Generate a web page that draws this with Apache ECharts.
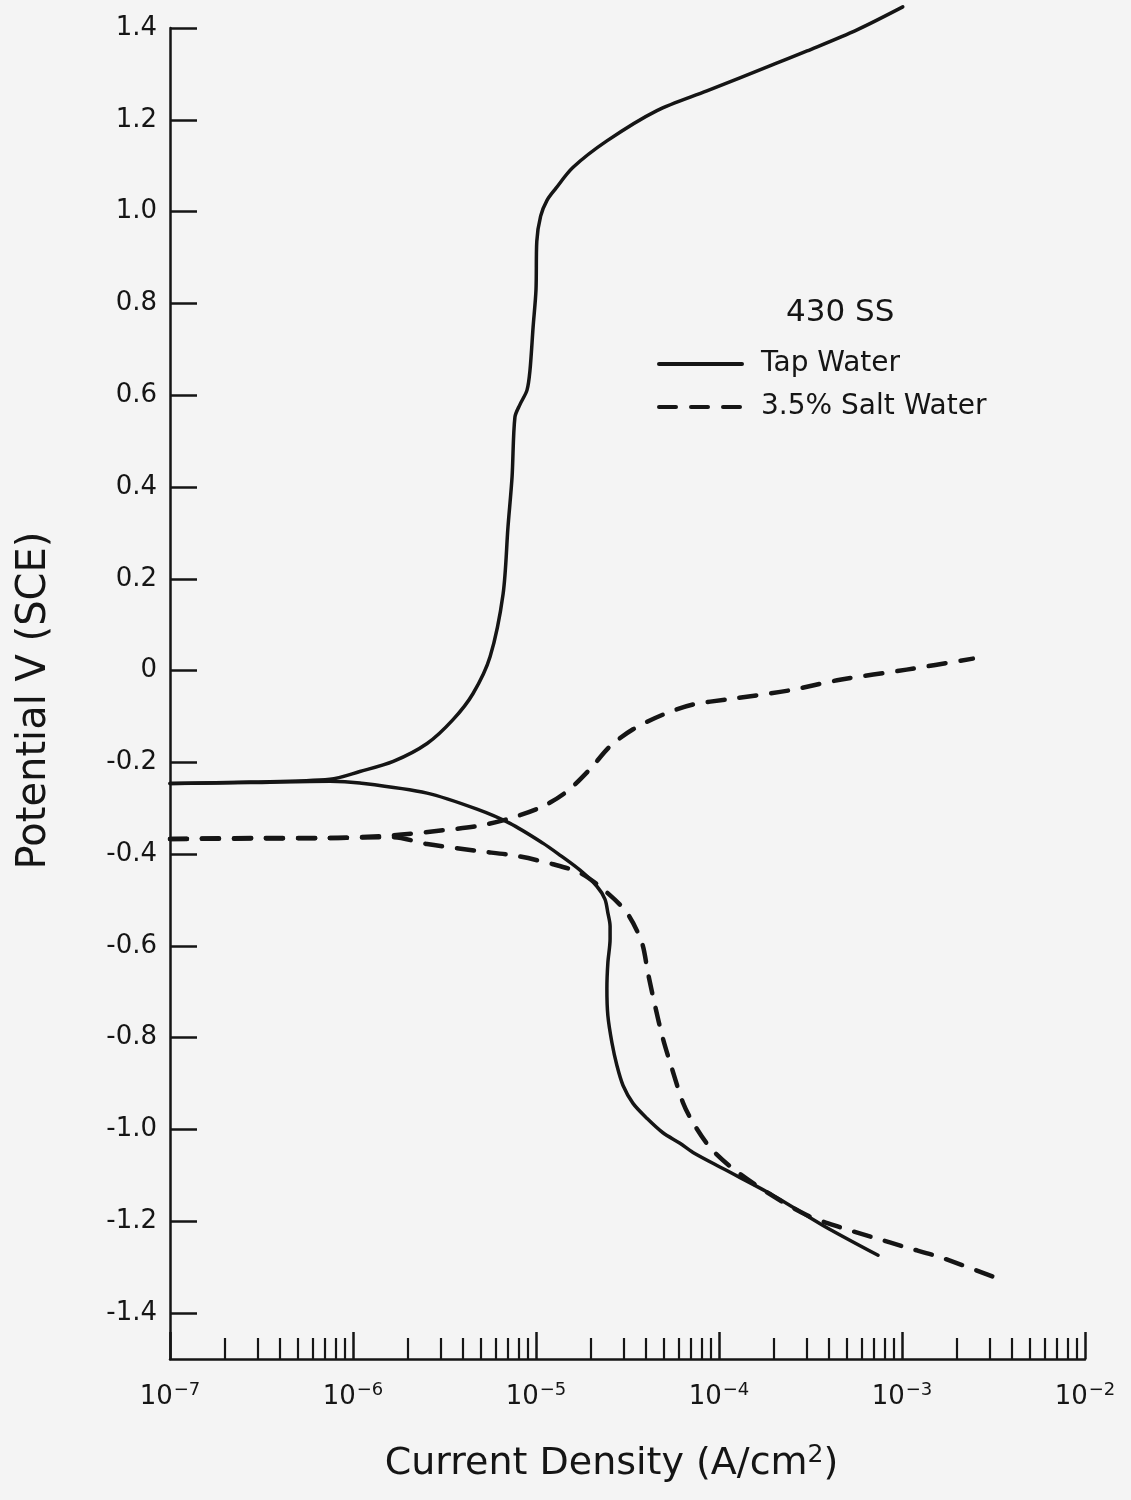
<!DOCTYPE html>
<html>
<head>
<meta charset="utf-8">
<script src="https://cdn.jsdelivr.net/npm/echarts@6/dist/echarts.min.js"></script>
<style>
  html, body { margin: 0; padding: 0; background: #f4f4f4; }
  #chart { width: 1131px; height: 1500px; }
</style>
</head>
<body>
<div id="chart"></div>
<script>
// ---- Data (current density A/cm^2, potential V vs SCE) ----
const tapAnodicI = [1.00e-7, 2.74e-7, 7.48e-7, 1.09e-6, 1.66e-6, 2.54e-6, 3.52e-6, 4.53e-6, 5.61e-6, 6.61e-6, 7.03e-6, 7.40e-6, 7.67e-6, 8.18e-6, 8.93e-6, 9.27e-6, 9.64e-6, 1.00e-5, 1.01e-5, 1.06e-5, 1.15e-5, 1.28e-5, 1.59e-5, 2.44e-5, 4.58e-5, 8.59e-5, 1.97e-4, 3.03e-4, 5.68e-4, 1.01e-3];
const tapAnodicV = [-0.246, -0.243, -0.237, -0.220, -0.198, -0.159, -0.107, -0.050, 0.030, 0.167, 0.313, 0.422, 0.552, 0.580, 0.611, 0.654, 0.748, 0.830, 0.935, 0.990, 1.025, 1.050, 1.096, 1.154, 1.220, 1.263, 1.320, 1.350, 1.396, 1.446];

const tapCathodicI = [1.00e-7, 2.74e-7, 7.48e-7, 1.09e-6, 2.54e-6, 4.76e-6, 7.21e-6, 1.09e-5, 1.35e-5, 1.74e-5, 2.15e-5, 2.38e-5, 2.47e-5, 2.54e-5, 2.54e-5, 2.47e-5, 2.44e-5, 2.47e-5, 2.60e-5, 2.77e-5, 2.99e-5, 3.39e-5, 4.05e-5, 4.94e-5, 6.12e-5, 7.21e-5, 1.05e-4, 1.97e-4, 3.70e-4, 7.40e-4];
const tapCathodicV = [-0.246, -0.244, -0.241, -0.245, -0.267, -0.302, -0.333, -0.376, -0.402, -0.435, -0.470, -0.498, -0.528, -0.557, -0.585, -0.637, -0.693, -0.752, -0.811, -0.861, -0.904, -0.943, -0.976, -1.007, -1.030, -1.050, -1.085, -1.143, -1.209, -1.274];

const saltAnodicI = [1.00e-7, 3.10e-7, 7.21e-7, 1.66e-6, 3.10e-6, 4.76e-6, 7.21e-6, 1.09e-5, 1.48e-5, 1.97e-5, 2.54e-5, 3.39e-5, 4.94e-5, 7.21e-5, 1.11e-4, 2.44e-4, 4.58e-4, 1.06e-3, 2.44e-3];
const saltAnodicV = [-0.367, -0.365, -0.365, -0.359, -0.348, -0.339, -0.322, -0.296, -0.263, -0.215, -0.165, -0.128, -0.096, -0.074, -0.063, -0.043, -0.020, 0.002, 0.026];

const saltCathodicI = [1.00e-7, 7.21e-7, 1.66e-6, 2.54e-6, 4.76e-6, 7.87e-6, 1.24e-5, 1.74e-5, 2.32e-5, 3.14e-5, 3.79e-5, 4.09e-5, 4.47e-5, 4.94e-5, 5.53e-5, 6.35e-5, 7.21e-5, 8.93e-5, 1.19e-4, 1.83e-4, 3.03e-4, 4.58e-4, 6.95e-4, 1.06e-3, 1.61e-3, 3.22e-3];
const saltCathodicV = [-0.367, -0.365, -0.363, -0.378, -0.393, -0.404, -0.422, -0.441, -0.476, -0.528, -0.593, -0.659, -0.730, -0.802, -0.867, -0.941, -0.985, -1.039, -1.085, -1.137, -1.187, -1.213, -1.235, -1.257, -1.278, -1.322];

// ---- Axis tick definitions ----
const xDecades = [1e-7, 1e-6, 1e-5, 1e-4, 1e-3, 1e-2];
const yTicks = [-1.4, -1.2, -1.0, -0.8, -0.6, -0.4, -0.2, 0, 0.2, 0.4, 0.6, 0.8, 1.0, 1.2, 1.4];
const seriesNames = ['Tap Water', '3.5% Salt Water'];
const legendTitle = '430 SS';

const xMinor = [];
for (let d = 0; d < xDecades.length - 1; d++) {
  for (let k = 2; k <= 9; k++) xMinor.push(+(k * xDecades[d]).toPrecision(3));
}

function pairs(xs, ys) { return xs.map((x, i) => [x, ys[i]]); }

const INK = '#151515';
const FONT = 'DejaVu Sans';

const solidStyle = { color: INK, width: 3.5, type: 'solid', cap: 'round', join: 'round' };
const dashStyle = { color: INK, width: 4.5, type: [17, 15], cap: 'round', join: 'round' };

const chart = echarts.init(document.getElementById('chart'), null, { renderer: 'canvas' });

const option = {
  backgroundColor: '#f4f4f4',
  animation: false,
  title: {
    text: legendTitle,
    left: 786, top: 297,
    padding: 0,
    textStyle: { fontFamily: FONT, fontSize: 31, fontWeight: 'normal', color: INK }
  },
  legend: {
    data: seriesNames,
    orient: 'vertical',
    left: 657, top: 350,
    padding: 0,
    itemWidth: 83, itemHeight: 24, itemGap: 15,
    itemStyle: { opacity: 0 },
    lineStyle: { width: 4 },
    formatter: n => '{t|' + n + '}',
    textStyle: {
      fontFamily: FONT, fontSize: 28, color: INK,
      rich: { t: { fontFamily: FONT, fontSize: 28, color: INK, padding: [0, 0, 0, 14] } }
    }
  },
  grid: { left: 170, right: 46, top: 28, bottom: 141, containLabel: false },
  xAxis: [
    {
      type: 'log', logBase: 10, min: 1e-7, max: 1e-2,
      name: 'Current Density (A/cm{sup|2})',
      nameLocation: 'middle', nameGap: 84,
      nameTextStyle: {
        fontFamily: FONT, fontSize: 38, color: INK,
        padding: [0, 32, 0, 0],
        rich: { sup: { fontFamily: FONT, fontSize: 25, color: INK, padding: [0, 0, 18, 0] } }
      },
      axisLine: { show: true, onZero: false, lineStyle: { color: INK, width: 2.5 } },
      axisTick: { show: true, inside: true, length: 27, customValues: xDecades, lineStyle: { color: INK, width: 2.5 } },
      axisLabel: {
        customValues: xDecades,
        margin: 22,
        formatter: v => '{b|10}{s|−' + Math.round(-Math.log10(v)) + '}',
        rich: {
          b: { fontFamily: FONT, fontSize: 26, color: INK },
          s: { fontFamily: FONT, fontSize: 18, color: INK, padding: [0, 0, 15, 1] }
        }
      },
      splitLine: { show: false },
      minorTick: { show: false }
    },
    {
      type: 'log', logBase: 10, min: 1e-7, max: 1e-2,
      position: 'bottom',
      axisLine: { show: false, onZero: false },
      axisTick: { show: true, inside: true, length: 21, customValues: xMinor, lineStyle: { color: INK, width: 2.2 } },
      axisLabel: { show: false },
      splitLine: { show: false }
    }
  ],
  yAxis: {
    type: 'value', min: -1.5, max: 1.4,
    name: 'Potential V (SCE)',
    nameLocation: 'middle', nameGap: 115,
    nameTextStyle: { fontFamily: FONT, fontSize: 40, color: INK, padding: [0, 14, 0, 0] },
    axisLine: { show: true, onZero: false, lineStyle: { color: INK, width: 2.5 } },
    axisTick: { show: true, inside: true, length: 27, customValues: yTicks, lineStyle: { color: INK, width: 2.5 } },
    axisLabel: {
      customValues: yTicks,
      margin: 13,
      fontFamily: FONT, fontSize: 26, color: INK,
      formatter: v => {
        const r = Math.round(v * 10) / 10;
        if (r === 0) return '0';
        return (r < 0 ? '-' : '') + Math.abs(r).toFixed(1);
      }
    },
    splitLine: { show: false }
  },
  series: [
    { name: seriesNames[0], type: 'line', xAxisIndex: 0, data: pairs(tapAnodicI, tapAnodicV), symbol: 'none', smooth: 0.3, clip: false, lineStyle: solidStyle, itemStyle: { color: INK } },
    { name: seriesNames[0], type: 'line', xAxisIndex: 0, data: pairs(tapCathodicI, tapCathodicV), symbol: 'none', smooth: 0.3, clip: false, lineStyle: solidStyle, itemStyle: { color: INK } },
    { name: seriesNames[1], type: 'line', xAxisIndex: 0, data: pairs(saltAnodicI, saltAnodicV), symbol: 'none', smooth: 0.3, clip: false, lineStyle: dashStyle, itemStyle: { color: INK } },
    { name: seriesNames[1], type: 'line', xAxisIndex: 0, data: pairs(saltCathodicI, saltCathodicV), symbol: 'none', smooth: 0.3, clip: false, lineStyle: dashStyle, itemStyle: { color: INK } }
  ]
};

chart.setOption(option);
</script>
</body>
</html>
